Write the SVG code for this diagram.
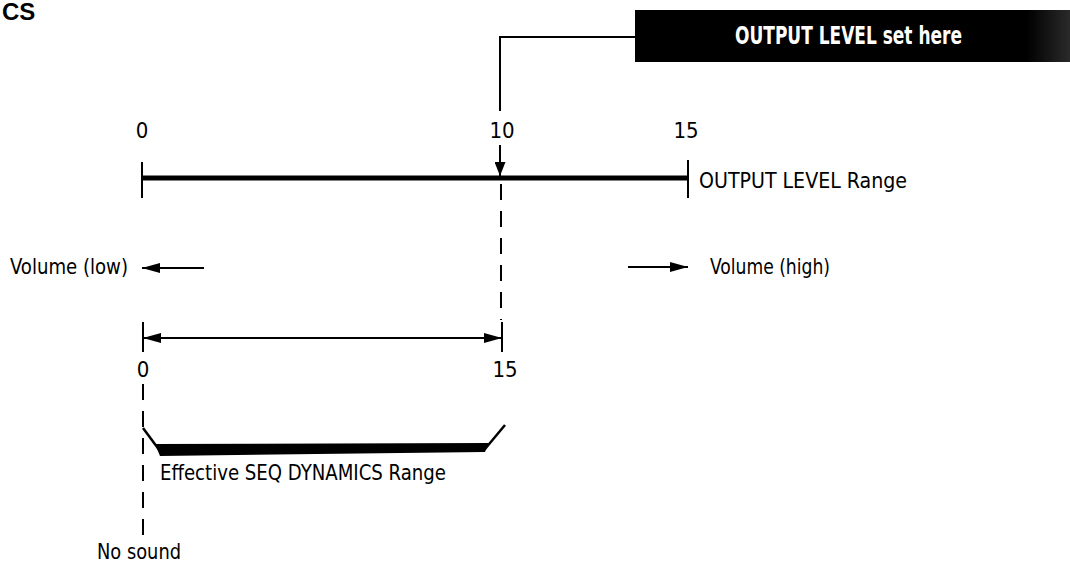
<svg xmlns="http://www.w3.org/2000/svg" width="1070" height="563" viewBox="0 0 1070 563">
<defs>
<marker id="ah" viewBox="0 0 18 10" refX="18" refY="5" markerWidth="18" markerHeight="10" markerUnits="userSpaceOnUse" orient="auto-start-reverse"><path d="M0,0 L18,5 L0,10 z" fill="#000"/></marker>
<marker id="ahs" viewBox="0 0 14 11" refX="14" refY="5.5" markerWidth="14" markerHeight="11" markerUnits="userSpaceOnUse" orient="auto"><path d="M0,0 L14,5.5 L0,11 z" fill="#000"/></marker>
<linearGradient id="fade" x1="0" y1="0" x2="1" y2="0"><stop offset="0" stop-color="#000"/><stop offset="0.9" stop-color="#000"/><stop offset="1" stop-color="#2a2a2a"/></linearGradient>
</defs>
<style>
.t{font-family:"Liberation Sans Narrow","DejaVu Sans Condensed","Liberation Sans",sans-serif;font-size:22px;fill:#000}
.n{text-anchor:middle}
.ln{stroke:#000;fill:none;stroke-width:2}
.dash{stroke:#000;fill:none;stroke-width:2;stroke-dasharray:16 11}
</style>
<rect width="1070" height="563" fill="#fff"/>
<g id="title"><text x="2" y="20" font-family="Liberation Sans, sans-serif" font-weight="bold" font-size="24">CS</text></g>
<g id="callout">
<rect x="635" y="10" width="435" height="52" fill="url(#fade)"/>
<text x="735" y="44" class="t" style="fill:#fff;font-weight:bold;font-size:25px" textLength="227" lengthAdjust="spacingAndGlyphs">OUTPUT LEVEL set here</text>
</g>
<g id="output-range">
<path d="M142,178 H688" stroke="#000" stroke-width="5"/>
<path class="ln" d="M142,162 V198 M688,160 V198"/>
<text x="142" y="138" class="t n">0</text>
<text x="502" y="138" class="t n">10</text>
<text x="686" y="138" class="t n">15</text>
<text x="699" y="188" class="t" textLength="208" lengthAdjust="spacingAndGlyphs">OUTPUT LEVEL Range</text>
</g>
<g id="volume-low"><text x="10" y="274" class="t" textLength="118" lengthAdjust="spacingAndGlyphs">Volume (low)</text></g>
<g id="volume-high"><text x="710" y="274" class="t" textLength="120" lengthAdjust="spacingAndGlyphs">Volume (high)</text></g>
<g id="seq-range">
<path class="ln" d="M143,322 V352 M502,322 V352"/>
<text x="143" y="377" class="t n">0</text>
<text x="505" y="377" class="t n">15</text>
</g>
<g id="effective-range">
<path d="M143,428 L160,451" stroke="#000" stroke-width="2.5" fill="none"/>
<polygon points="155,444 489,443 485,452 160,456" fill="#000"/>
<path d="M485,449 L505,425" stroke="#000" stroke-width="2.5" fill="none"/>
<text x="160" y="480" class="t" textLength="286" lengthAdjust="spacingAndGlyphs">Effective SEQ DYNAMICS Range</text>
</g>
<g id="no-sound"><text x="97" y="559" class="t" textLength="84" lengthAdjust="spacingAndGlyphs">No sound</text></g>
<g id="connectors">
<path class="ln" stroke-width="1.5" d="M635,37 H500 V111"/>
<path class="ln" d="M500,145 V176" marker-end="url(#ahs)"/>
<path class="dash" d="M501,184 V320"/>
<path class="ln" d="M143,338 H502" marker-start="url(#ah)" marker-end="url(#ah)"/>
<path class="dash" d="M143,384 V539"/>
<path class="ln" d="M204,268 H142" marker-end="url(#ah)"/>
<path class="ln" d="M628,267 H688" marker-end="url(#ah)"/>
</g>
</svg>
